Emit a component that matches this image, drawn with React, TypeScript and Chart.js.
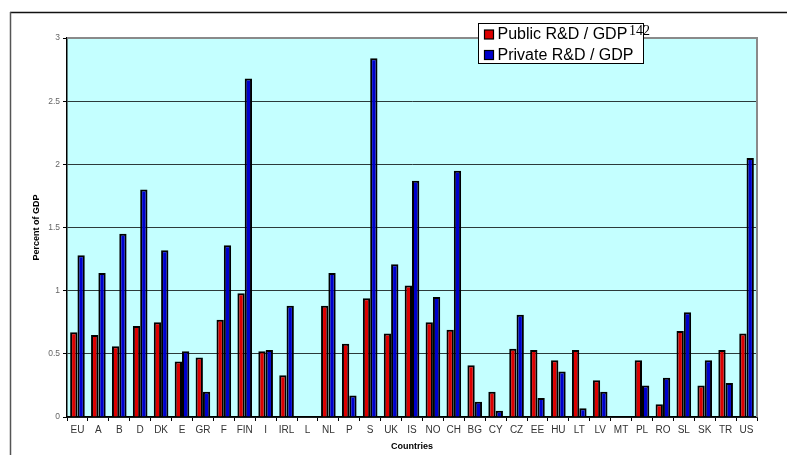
import React, { useEffect, useRef } from "react";
import { Chart, registerables } from "chart.js";

Chart.register(...registerables);

const categories = ["EU","A","B","D","DK","E","GR","F","FIN","I","IRL","L","NL","P","S","UK","IS","NO","CH","BG","CY","CZ","EE","HU","LT","LV","MT","PL","RO","SL","SK","TR","US"];
const publicRD = [0.67,0.65,0.56,0.72,0.75,0.44,0.47,0.77,0.98,0.52,0.33,null,0.88,0.58,0.94,0.66,1.04,0.75,0.69,0.41,0.20,0.54,0.53,0.45,0.53,0.29,null,0.45,0.10,0.68,0.25,0.53,0.66];
const privateRD = [1.28,1.14,1.45,1.80,1.32,0.52,0.20,1.36,2.68,0.53,0.88,null,1.14,0.17,2.84,1.21,1.87,0.95,1.95,0.12,0.05,0.81,0.15,0.36,0.07,0.20,null,0.25,0.31,0.83,0.45,0.27,2.05];
const seriesNames = ["Public R&D / GDP", "Private R&D / GDP"];
const pageNote = "142";
const yTitle = "Percent of GDP";
const xTitle = "Countries";

const FONT = 'Arial, "Liberation Sans", sans-serif';

const framePlugin = {
  id: "framePlugin",
  beforeDraw(chart: any) {
    const { ctx, chartArea } = chart;
    ctx.save();
    ctx.fillStyle = "#ffffff";
    ctx.fillRect(0, 0, chart.width, chart.height);
    ctx.strokeStyle = "#111";
    ctx.lineWidth = 1.5;
    ctx.beginPath();
    ctx.moveTo(10, 12.5);
    ctx.lineTo(chart.width, 12.5);
    ctx.stroke();
    ctx.strokeStyle = "#555";
    ctx.beginPath();
    ctx.moveTo(10.5, 12);
    ctx.lineTo(10.5, chart.height);
    ctx.stroke();
    ctx.fillStyle = "#c4ffff";
    ctx.fillRect(chartArea.left, chartArea.top, chartArea.right - chartArea.left, chartArea.bottom - chartArea.top);
    ctx.restore();
  },
  afterDraw(chart: any) {
    const { ctx, chartArea } = chart;
    ctx.save();
    ctx.strokeStyle = "#8a8a8a";
    ctx.lineWidth = 2;
    ctx.beginPath();
    ctx.moveTo(chartArea.left, chartArea.top);
    ctx.lineTo(chartArea.right, chartArea.top);
    ctx.lineTo(chartArea.right, chartArea.bottom);
    ctx.stroke();

    // legend
    const bx = 478.5, by = 23.5, bw = 165, bh = 40;
    ctx.fillStyle = "#fff";
    ctx.fillRect(bx, by, bw, bh);
    ctx.strokeStyle = "#000";
    ctx.lineWidth = 1;
    ctx.strokeRect(bx, by, bw, bh);
    const ds = chart.data.datasets;
    ds.forEach((d: any, i: number) => {
      const cy = 34.5 + i * 20.5;
      ctx.fillStyle = d.backgroundColor;
      ctx.fillRect(484.5, cy - 4.5, 9, 9);
      ctx.strokeStyle = "#000";
      ctx.lineWidth = 1.2;
      ctx.strokeRect(484.5, cy - 4.5, 9, 9);
      ctx.fillStyle = "#000";
      ctx.font = "16px " + FONT;
      ctx.textBaseline = "middle";
      ctx.textAlign = "left";
      ctx.fillText(d.label, 497.5, cy + 0.5);
    });
    ctx.font = '14px "Liberation Serif", "Times New Roman", serif';
    ctx.textBaseline = "alphabetic";
    ctx.fillStyle = "#000";
    ctx.fillText(pageNote, 629, 35);
    ctx.restore();
  },
};

export default function App() {
  const ref = useRef<HTMLCanvasElement | null>(null);
  useEffect(() => {
    if (!ref.current) return;
    const chart = new Chart(ref.current, {
      type: "bar",
      data: {
        labels: categories,
        datasets: [
          { label: seriesNames[0], data: publicRD, backgroundColor: "#dd0000", borderColor: "#000", borderWidth: 2 },
          { label: seriesNames[1], data: privateRD, backgroundColor: "#0000cc", borderColor: "#000", borderWidth: 2 },
        ],
      },
      options: {
        animation: false,
        responsive: true,
        maintainAspectRatio: false,
        devicePixelRatio: 1,
        layout: { padding: { left: 0, right: 30, top: 38, bottom: 0 } },
        datasets: { bar: { categoryPercentage: 0.7, barPercentage: 1.0 } },
        plugins: { legend: { display: false }, tooltip: { enabled: false }, title: { display: false } },
        scales: {
          x: {
            afterFit: (s: any) => { s.height = 38; },
            grid: { display: true, drawOnChartArea: false, drawTicks: true, tickLength: 4, tickColor: "#000", offset: true },
            border: { display: true, color: "#000", width: 1.5 },
            ticks: { autoSkip: false, maxRotation: 0, minRotation: 0, padding: 3, color: "#333", font: { family: FONT, size: 10 } },
            title: { display: true, text: xTitle, color: "#000", font: { family: FONT, size: 9, weight: "bold" }, padding: { top: 0, bottom: 3 } },
          },
          y: {
            min: 0,
            max: 3,
            afterFit: (s: any) => { s.width = 67; },
            grid: { color: "#2c3a3a", lineWidth: 1, drawTicks: true, tickLength: 4, tickColor: "#000" },
            border: { display: true, color: "#000", width: 1.5 },
            ticks: { stepSize: 0.5, padding: 3, color: "#666", font: { family: FONT, size: 8.5 }, callback: (v: any) => String(Number(v)) },
            title: { display: true, text: yTitle, color: "#000", font: { family: FONT, size: 9, weight: "bold" }, padding: { top: 31, bottom: 0 } },
          },
        },
      },
      plugins: [framePlugin],
    });
    return () => chart.destroy();
  }, []);
  return (
    <div style={{ position: "absolute", left: 0, top: 0, width: 787, height: 455 }}>
      <canvas ref={ref} />
    </div>
  );
}
